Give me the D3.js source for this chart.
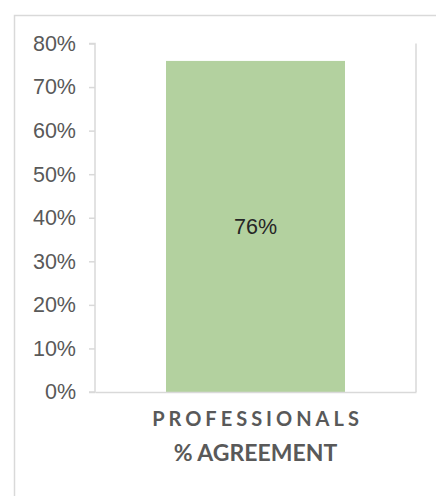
<!DOCTYPE html>
<html>
<head>
<meta charset="utf-8">
<script src="https://cdn.jsdelivr.net/npm/d3@7"></script>
<style>
  html, body { margin: 0; padding: 0; background: #fff; }
  svg { display: block; }
</style>
</head>
<body>
<svg id="chart" width="436" height="496"></svg>
<script>
// Chart data
const categories = ["PROFESSIONALS"];
const values = [0.76];
const axisTitle = "% AGREEMENT";
const yTicks = [0, 0.1, 0.2, 0.3, 0.4, 0.5, 0.6, 0.7, 0.8];

const svg = d3.select("#chart");
const grey = "#d9d9d9";
const textGrey = "#595959";

// Outer chart frame
svg.append("rect")
  .attr("x", 14.5).attr("y", 15.5)
  .attr("width", 440).attr("height", 500)
  .attr("fill", "#fff")
  .attr("stroke", grey).attr("stroke-width", 1.5);

const plot = { left: 95, right: 416, top: 43.5, bottom: 392 };

const x = d3.scaleBand()
  .domain(categories)
  .range([plot.left, plot.right])
  .paddingInner(0.284)
  .paddingOuter(0.284);

const y = d3.scaleLinear()
  .domain([0, 0.8])
  .range([plot.bottom, plot.top]);

// Right border of the plot area
svg.append("line")
  .attr("x1", plot.right).attr("x2", plot.right)
  .attr("y1", plot.top).attr("y2", plot.bottom)
  .attr("stroke", grey).attr("stroke-width", 1.5);

// Bars
svg.selectAll("rect.bar")
  .data(categories)
  .join("rect")
  .attr("class", "bar")
  .attr("x", d => x(d))
  .attr("width", x.bandwidth())
  .attr("y", (d, i) => y(values[i]))
  .attr("height", (d, i) => y(0) - y(values[i]))
  .attr("fill", "#b3d19f");

// Y axis
const yAxis = svg.append("g")
  .attr("transform", `translate(${plot.left},0)`)
  .call(d3.axisLeft(y).tickValues(yTicks).tickFormat(d3.format(".0%")).tickSize(6).tickPadding(13));
yAxis.selectAll("path, line").attr("stroke", grey).attr("stroke-width", 1.5);
yAxis.select("path").attr("d", `M-6,${plot.top}H0V${plot.bottom}H-6`);
yAxis.selectAll("text")
  .attr("fill", textGrey)
  .style("font-family", "'Liberation Sans', Arial, sans-serif")
  .style("font-size", "21.5px");

// X axis baseline
const xAxis = svg.append("g")
  .attr("transform", `translate(0,${plot.bottom})`)
  .call(d3.axisBottom(x).tickSize(0).tickFormat(""));
xAxis.select("path").attr("stroke", grey).attr("stroke-width", 1.5);

// Value labels
svg.selectAll("text.value")
  .data(categories)
  .join("text")
  .attr("class", "value")
  .attr("x", d => x(d) + x.bandwidth() / 2)
  .attr("y", (d, i) => (y(values[i]) + y(0)) / 2)
  .attr("dy", "0.35em")
  .attr("text-anchor", "middle")
  .attr("fill", "#262626")
  .style("font-family", "'Liberation Sans', Arial, sans-serif")
  .style("font-size", "21.5px")
  .text((d, i) => d3.format(".0%")(values[i]));

// Category labels
svg.selectAll("text.cat")
  .data(categories)
  .join("text")
  .attr("class", "cat")
  .attr("x", d => x(d) + x.bandwidth() / 2 + 2)
  .attr("y", 425.5)
  .attr("text-anchor", "middle")
  .attr("fill", textGrey)
  .style("font-family", "Lato, sans-serif")
  .style("font-weight", "700")
  .style("font-size", "20px")
  .style("letter-spacing", "4px")
  .text(d => d);

// Axis title
svg.append("text")
  .attr("x", x(categories[0]) + x.bandwidth() / 2)
  .attr("y", 461)
  .attr("text-anchor", "middle")
  .attr("fill", textGrey)
  .style("font-family", "Lato, sans-serif")
  .style("font-weight", "700")
  .style("font-size", "23px")
  .text(axisTitle);
</script>
</body>
</html>
